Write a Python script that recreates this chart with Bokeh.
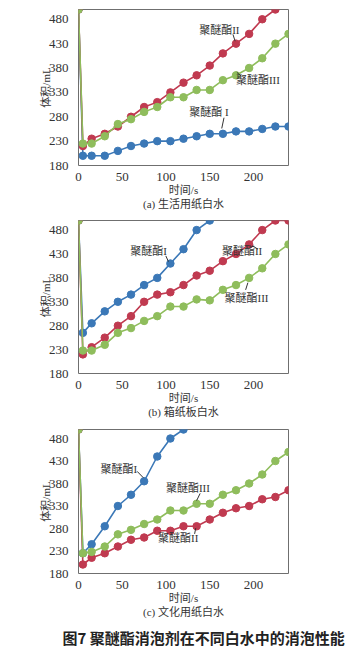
from bokeh.plotting import figure
from bokeh.layouts import column
from bokeh.models import FixedTicker, Range1d, Title
from bokeh.core.properties import value
from bokeh.embed import file_html
from bokeh.resources import INLINE

# ---------------- data ----------------
t = [0, 5, 15, 30, 45, 60, 75, 90, 105, 120, 135, 150, 165, 180, 195, 210, 225, 240]

a_I   = [500, 200, 200, 200, 210, 220, 225, 230, 230, 235, 240, 245, 245, 250, 250, 255, 260, 260]
a_II  = [500, 220, 235, 245, 260, 280, 300, 310, 330, 350, 365, 385, 410, 430, 450, 480, 500]
a_III = [500, 225, 225, 240, 265, 275, 290, 300, 320, 320, 335, 335, 355, 365, 380, 400, 430, 450]

b_I   = [500, 265, 285, 310, 330, 345, 365, 380, 410, 440, 480, 500]
b_II  = [500, 220, 235, 255, 280, 300, 330, 345, 350, 365, 385, 395, 415, 430, 450, 480, 500, 500]
b_III = [500, 228, 228, 240, 265, 275, 290, 300, 320, 320, 335, 333, 355, 365, 380, 400, 430, 450]

c_I   = [500, 225, 245, 285, 330, 355, 385, 440, 480, 500]
c_II  = [500, 200, 215, 225, 240, 255, 260, 275, 275, 285, 285, 300, 315, 325, 330, 345, 350, 365]
c_III = [500, 225, 228, 240, 267, 277, 290, 300, 320, 320, 335, 335, 355, 365, 380, 400, 430, 450]

x_ticks = [0, 50, 100, 150, 200]
y_ticks = [180, 230, 280, 330, 380, 430, 480]

subtitles = ["(a) 生活用纸白水", "(b) 箱纸板白水", "(c) 文化用纸白水"]
x_label = "时间/s"
y_label = "体积/mL"
caption = "图7   聚醚酯消泡剂在不同白水中的消泡性能"

# ---------------- style ----------------
COLORS = ["#3b78b7", "#c03a50", "#8fbd5c"]
SERIF = "Liberation Serif"
MIX = "Liberation Serif, Noto Sans CJK SC"
CJK = "Noto Sans CJK SC"

# annotation text (label, x, y) and leader lines (x0,y0,x1,y1) in data coords
ann = [
    [("聚醚酯II", 161, 458), ("聚醚酯III", 205, 356), ("聚醚酯 I", 149, 290)],
    [("聚醚酯I", 80, 437), ("聚醚酯II", 187, 436), ("聚醚酯III", 192, 338)],
    [("聚醚酯I", 46, 413), ("聚醚酯III", 125, 369), ("聚醚酯II", 114, 259)],
]
leaders = [
    [(176.5, 449, 179, 435), (181, 371, 186, 363), (166.3, 278, 163.7, 256)],
    [(99.8, 426, 102.8, 414), (199, 447, 205, 440), (191, 355, 193.6, 370)],
    [(67, 407, 74, 393), (139, 358, 135, 342), (134, 281, 132.7, 268)],
]

# figure geometry: (height, border_top, border_bottom, border_left, border_right)
geom = [
    (212, 9, 42, 78, 58),
    (208, 8, 42, 78, 56),
    (231, 9, 63, 78, 51),
]

panels = [(a_I, a_II, a_III), (b_I, b_II, b_III), (c_I, c_II, c_III)]

figs = []
for i, series in enumerate(panels):
    h, bt, bb, bl, br = geom[i]
    p = figure(width=346, height=h, output_backend="svg", toolbar_location=None,
               x_range=Range1d(0, 240), y_range=Range1d(180, 500),
               min_border_top=bt, min_border_bottom=bb,
               min_border_left=bl, min_border_right=br)
    p.grid.visible = False
    p.outline_line_color = "#6f6f6f"
    p.outline_line_width = 1
    p.background_fill_color = "white"
    p.border_fill_color = "white"

    for ax in (p.xaxis, p.yaxis):
        ax.axis_line_color = None
        ax.major_tick_line_color = None
        ax.minor_tick_line_color = None
        ax.major_label_text_font = SERIF
        ax.major_label_text_font_size = "13px"
        ax.major_label_text_color = "#333333"
        ax.axis_label_text_font = MIX
        ax.axis_label_text_font_size = "11px"
        ax.axis_label_text_font_style = "normal"
        ax.axis_label_text_color = "#333333"
    p.xaxis.ticker = FixedTicker(ticks=x_ticks)
    p.yaxis.ticker = FixedTicker(ticks=y_ticks)
    p.xaxis.major_label_standoff = 1
    p.yaxis.major_label_standoff = 4
    p.xaxis.axis_label = x_label + "\n" + subtitles[i]
    p.xaxis.axis_label_standoff = 0
    p.yaxis.axis_label = y_label
    p.yaxis.axis_label_standoff = -6

    for k, vals in enumerate(series):
        xs = t[:len(vals)]
        p.line(xs, vals, line_color=COLORS[k], line_width=1.6)
        p.scatter(xs, vals, size=7.5, fill_color=COLORS[k], line_color=COLORS[k])

    for (txt, x, y) in ann[i]:
        p.text([x], [y], text=[txt], text_font=value(MIX), text_font_size="11px",
               text_align="center", text_baseline="middle", text_color="#333333")
    for (x0, y0, x1, y1) in leaders[i]:
        p.segment([x0], [y0], [x1], [y1], line_color="#333333", line_width=1)

    if i == 2:
        cap = Title(text=caption, align="left", offset=-16, text_font=CJK,
                    text_font_size="15px", text_font_style="bold",
                    text_color="#222222", standoff=8)
        p.add_layout(cap, "below")
    figs.append(p)

layout = column(*figs, spacing=0)
open("out.html", "w").write(file_html(layout, INLINE))
